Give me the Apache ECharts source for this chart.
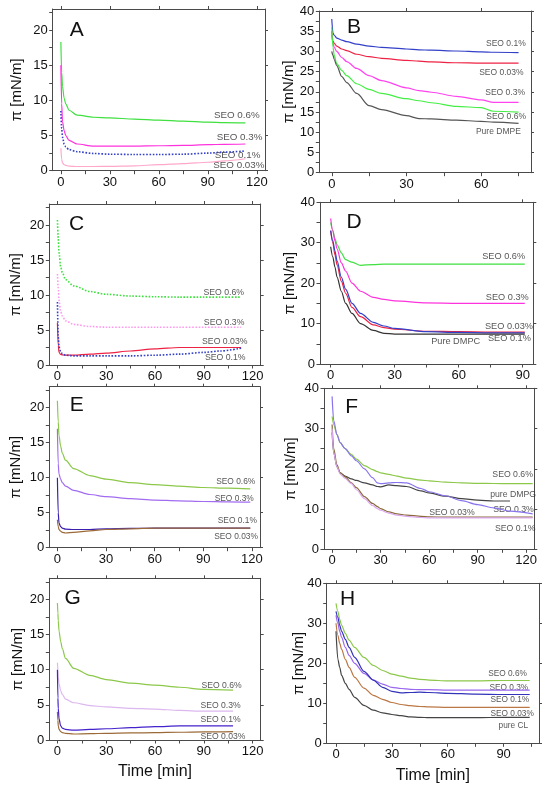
<!DOCTYPE html>
<html><head><meta charset="utf-8">
<script src="https://cdn.jsdelivr.net/npm/echarts@6/dist/echarts.min.js"></script>
<style>html,body{margin:0;padding:0;background:#fff}#c{width:550px;height:789px}</style>
</head><body><div id="c"></div>
<script>
// ---------- DATA (time in min, surface pressure in mN/m) ----------
const tA = [0, 0.5, 1, 2, 3, 5, 10, 20, 30, 45, 60, 75, 90, 100, 113];
const A_seo06  = [18.3, 14, 12, 10.3, 9.5, 8.6, 7.9, 7.6, 7.5, 7.35, 7.2, 7.05, 6.9, 6.85, 6.8];
const A_seo03  = [15, 9.5, 7, 5.7, 5, 4.3, 3.8, 3.5, 3.5, 3.5, 3.55, 3.6, 3.7, 3.75, 3.8];
const A_seo01  = [8.5, 6, 4.8, 3.8, 3.4, 3.0, 2.7, 2.45, 2.35, 2.3, 2.3, 2.35, 2.5, 2.65, 2.8];
const A_seo003 = [3.2, 1.6, 1.1, 0.85, 0.75, 0.65, 0.6, 0.6, 0.62, 0.7, 0.85, 1.0, 1.2, 1.4, 1.7];

const tB = [0, 0.5, 1, 2, 4, 6, 10, 15, 20, 30, 35, 40, 50, 60, 65, 75];
const B_seo01  = [38, 34.5, 34, 33.3, 32.8, 32.4, 31.8, 31.3, 31, 30.6, 30.4, 30.3, 30.1, 29.9, 29.8, 29.7];
const B_seo003 = [35, 32.5, 32, 31.3, 30.6, 30.2, 29.3, 28.7, 28.3, 27.8, 27.6, 27.4, 27.2, 27.1, 27.1, 27.1];
const B_seo03  = [34, 32, 31, 30, 28.5, 27.5, 25.8, 24, 22.8, 21, 20.3, 19.9, 18.9, 18, 17.4, 17.4];
const B_seo06  = [36, 31, 29, 27, 25.3, 24, 22, 20.6, 19.6, 18.3, 17.8, 17.3, 16.4, 16.1, 15.2, 15];
const B_dmpe   = [30, 29, 28, 26.5, 23.8, 22.3, 19.6, 16.6, 15.6, 14.1, 13.4, 13.3, 13, 12.7, 12.5, 12.2];

const tC = [0, 0.5, 1, 2, 3, 5, 10, 20, 30, 45, 60, 75, 90, 100, 113];
const C_seo06  = [20.7, 18, 16, 14, 13.2, 12.2, 11.3, 10.5, 10.1, 9.85, 9.75, 9.7, 9.7, 9.7, 9.7];
const C_seo03  = [13, 11, 9.2, 7.6, 7, 6.3, 5.8, 5.5, 5.4, 5.4, 5.4, 5.4, 5.4, 5.4, 5.4];
const C_seo003 = [6, 2.8, 1.8, 1.5, 1.45, 1.4, 1.4, 1.55, 1.7, 2.0, 2.3, 2.5, 2.5, 2.5, 2.5];
const C_seo01  = [9, 4, 2.6, 1.9, 1.6, 1.4, 1.3, 1.3, 1.3, 1.3, 1.4, 1.55, 1.8, 2.0, 2.4];

const tD = [0, 1, 2, 3, 5, 7, 10, 14, 20, 25, 30, 45, 60, 75, 91];
const D_seo06  = [35, 33, 31, 29.5, 27.5, 25.8, 25.2, 24.4, 24.6, 24.7, 24.7, 24.7, 24.7, 24.7, 24.7];
const D_seo03  = [36, 33, 30.5, 28.5, 25, 23, 20, 18, 16.5, 16, 15.6, 15.1, 15, 15, 15];
const D_seo003 = [33, 30, 27, 24.5, 20.5, 17.5, 14, 11.7, 9.7, 9.0, 8.6, 8.1, 8.0, 7.9, 7.9];
const D_seo01  = [33, 30.5, 28, 25.5, 21.5, 18.5, 15, 12.5, 10.3, 9.4, 8.8, 8.0, 7.8, 7.7, 7.7];
const D_dmpc   = [29, 26.5, 24, 21.5, 18, 15, 12.5, 10, 8.3, 7.6, 7.4, 7.4, 7.4, 7.4, 7.4];

const tE = [0, 0.5, 1, 2, 3, 5, 10, 20, 30, 45, 60, 75, 90, 105, 119];
const E_seo06  = [21, 18, 16, 14.5, 13.5, 12.5, 11.3, 10.3, 9.8, 9.3, 9.0, 8.8, 8.6, 8.5, 8.4];
const E_seo03  = [17, 12, 10.5, 9.8, 9.3, 8.8, 8.2, 7.6, 7.3, 7.0, 6.8, 6.7, 6.6, 6.55, 6.5];
const E_seo01  = [10, 5, 3.5, 3.0, 2.8, 2.65, 2.6, 2.6, 2.7, 2.75, 2.8, 2.8, 2.8, 2.8, 2.8];
const E_seo003 = [4, 3, 2.6, 2.35, 2.2, 2.1, 2.2, 2.4, 2.6, 2.7, 2.8, 2.8, 2.8, 2.8, 2.8];

const tF = [0, 1, 3, 5, 8, 12, 15, 20, 25, 28, 30, 35, 40, 46, 55, 60, 70, 80, 90, 100, 110, 124];
const F_seo06  = [33, 31, 28.5, 26.5, 25, 23.5, 22.4, 20.8, 19.8, 19.3, 19, 18.6, 18.2, 17.7, 17.2, 17.0, 16.7, 16.5, 16.4, 16.35, 16.3, 16.3];
const F_dmpg   = [29, 24, 20.5, 19, 18.2, 17.5, 17.1, 16.5, 16, 15.6, 15.5, 16, 15.8, 15.6, 14.5, 14, 13.2, 12.6, 12.2, 12.0, 12.0, null];
const F_seo03  = [38, 32, 28.5, 26.5, 25, 23.2, 22, 20, 17.8, 16.5, 16.3, 16.5, 16.6, 16.5, 15.1, 14.3, 13.3, 12.1, 11.1, 10.3, 9.5, 8.8];
const F_seo003 = [31, 25, 21, 19, 18, 16.5, 15.3, 13.1, 11.4, 10.6, 10.1, 9.3, 8.8, 8.5, 8.2, 8.05, 8.0, 8.0, 8.0, 8.0, 8.0, 8.0];
const F_seo01  = [30, 24, 20.5, 18.7, 17.6, 16.3, 14.8, 12.6, 10.9, 10.1, 9.7, 9.0, 8.5, 8.2, 7.9, 7.8, 7.8, 7.8, 7.8, 7.8, 7.8, 7.8];

const tG = [0, 0.3, 0.5, 1, 2, 3, 5, 10, 20, 30, 45, 60, 75, 90, 108];
const G_seo06  = [19.5, 18, 17, 15.5, 14, 13, 11.6, 10.2, 9.2, 8.6, 8.1, 7.8, 7.5, 7.2, 7.1];
const G_seo03  = [11, 10, 9, 8, 7, 6.5, 5.8, 5.3, 4.9, 4.7, 4.5, 4.4, 4.2, 4.1, 4.1];
const G_seo01  = [10, 6, 4.5, 3, 2.0, 1.7, 1.5, 1.4, 1.5, 1.6, 1.75, 1.9, 2.0, 2.0, 2.0];
const G_seo003 = [4, 2.8, 2, 1.5, 1.2, 1.05, 0.95, 0.85, 0.9, 0.95, 1.0, 1.05, 1.1, 1.15, 1.2];

const tH = [0, 1, 2, 3, 5, 7, 10, 15, 20, 25, 30, 35, 40, 45, 50, 60, 75, 90, 104];
const H_seo06  = [35, 33, 31, 29.5, 27.5, 25.8, 24, 21.5, 19.5, 18.2, 17.3, 16.8, 16.3, 16.0, 15.8, 15.6, 15.6, 15.7, 15.7];
const H_seo03  = [32, 30, 28, 26.5, 24, 22, 20, 17.5, 15.8, 14.8, 14.0, 13.7, 13.5, 13.4, 13.4, 13.3, 13.3, 13.3, 13.3];
const H_seo01  = [33, 31.5, 29.5, 28, 26, 24, 21.5, 18, 15.8, 14, 13, 12.6, 12.7, 12.8, 12.7, 12.5, 12.3, 12.2, 12.2];
const H_seo003 = [30, 27, 25, 23.5, 21, 19, 16.5, 13.8, 12, 11, 10.2, 9.7, 9.4, 9.2, 9.1, 9.0, 9.0, 9.0, 9.0];
const H_cl     = [28, 21, 19, 17, 15, 13.5, 11.5, 9.5, 8.3, 7.6, 7.2, 6.9, 6.6, 6.5, 6.4, 6.4, 6.4, 6.5, 6.5];

// tick labels
const xTicks120 = [0, 30, 60, 90, 120];
const xTicks60 = [0, 30, 60];
const xTicks90 = [0, 30, 60, 90];
const yTicks20 = [0, 5, 10, 15, 20];
const yTicks40by5 = [0, 5, 10, 15, 20, 25, 30, 35, 40];
const yTicks40 = [0, 10, 20, 30, 40];

// ---------- LAYOUT / STYLE ----------
const GREEN = '#3fe03f', MAG = '#ff33dd', BLUE = '#3340c8', PINK = '#ffa8cc', RED = '#ee2244', GRAY = '#444';
const OLIVE = '#8cc84a', PURP = '#a26cf0', INDIGO = '#3a1fb0', BROWN = '#9c6a38';
const panels = [
  { letter: 'A', lp: [76.7, 30], box: [52.7, 9.0, 212.3, 161.7], ng: 28, x: [-5, 125, xTicks120], y: [0, 23, yTicks20], t: tA, fs: 9.8,
    s: [[A_seo06, GREEN], [A_seo03, MAG], [A_seo01, BLUE, 'dotted'], [A_seo003, PINK]],
    lab: [['SEO 0.6%', 107.7, 7.9], ['SEO 0.3%', 109.4, 4.8], ['SEO 0.1%', 108.2, 2.2], ['SEO 0.03%', 109, 0.7]] },
  { letter: 'B', lp: [354, 27], box: [319.3, 11, 211.7, 161.7], ng: 23, x: [-5, 80, xTicks60], y: [0, 40, yTicks40by5], t: tB, fs: 8.5,
    s: [[B_seo01, BLUE], [B_seo003, RED], [B_seo03, '#ff44ee'], [B_seo06, '#44ee44'], [B_dmpe, '#555']],
    lab: [['SEO 0.1%', 69.9, 31.9], ['SEO 0.03%', 68.1, 24.8], ['SEO 0.3%', 69.6, 19.9], ['SEO 0.6%', 70, 13.9], ['Pure DMPE', 66.9, 10.1]] },
  { letter: 'C', lp: [76.7, 224], box: [49.3, 204, 211.4, 161], ng: 26, x: [-5, 125, xTicks120], y: [0, 23, yTicks20], t: tC, fs: 8.7,
    s: [[C_seo06, GREEN, 'dotted'], [C_seo03, '#ff99ee', 'dotted'], [C_seo003, RED], [C_seo01, BLUE, 'dotted']],
    lab: [['SEO 0.6%', 102.3, 10.4], ['SEO 0.3%', 102.5, 6.1], ['SEO 0.03%', 102.9, 3.3], ['SEO 0.1%', 103.2, 1.0]] },
  { letter: 'D', lp: [354, 222], box: [320, 202.3, 213.3, 161.7], ng: 22.5, x: [-5, 95, xTicks90], y: [0, 40, yTicks40], t: tD, fs: 9.2,
    s: [[D_seo06, GREEN], [D_seo03, MAG], [D_seo003, RED], [D_seo01, BLUE], [D_dmpc, '#333']],
    lab: [['SEO 0.6%', 81.1, 26.6], ['SEO 0.3%', 82.8, 16.5], ['SEO 0.03%', 83.6, 9.3], ['SEO 0.1%', 83.8, 6.4], ['Pure DMPC', 58.6, 5.5]] },
  { letter: 'E', lp: [76.7, 405], box: [49.3, 386.7, 210.7, 161], ng: 26, x: [-5, 125, xTicks120], y: [0, 23, yTicks20], t: tE, fs: 8.4,
    s: [[E_seo06, OLIVE], [E_seo03, PURP], [E_seo01, INDIGO], [E_seo003, BROWN]],
    lab: [['SEO 0.6%', 110, 9.5], ['SEO 0.3%', 109.1, 7.06], ['SEO 0.1%', 111, 3.8], ['SEO 0.03%', 110.2, 1.57]] },
  { letter: 'F', lp: [351.7, 407], box: [324, 388.3, 210.3, 161], ng: 25.5, x: [-5, 125, xTicks120], y: [0, 40, yTicks40], t: tF, fs: 8.7,
    s: [[F_seo06, OLIVE], [F_dmpg, GRAY], [F_seo03, '#8a74ee'], [F_seo003, '#8a6a3a'], [F_seo01, '#dcaaee']],
    lab: [['SEO 0.6%', 111.6, 18.6], ['pure DMPG', 111.9, 13.5], ['SEO 0.3%', 112.1, 9.8], ['SEO 0.03%', 74.1, 9.1], ['SEO 0.1%', 113.2, 5.2]] },
  { letter: 'G', lp: [72.7, 598], box: [49.3, 578.3, 211.4, 161.7], ng: 24, x: [-5, 125, xTicks120], y: [0, 23, yTicks20], t: tG, fs: 8.6, xname: true,
    s: [[G_seo06, OLIVE], [G_seo03, '#dcb8ee'], [G_seo01, '#4422cc'], [G_seo003, BROWN]],
    lab: [['SEO 0.6%', 100.9, 7.7], ['SEO 0.3%', 100.3, 4.88], ['SEO 0.1%', 100.3, 2.94], ['SEO 0.03%', 101.8, 0.47]] },
  { letter: 'H', lp: [347.7, 599], box: [326.7, 583.3, 212.3, 160], ng: 20.5, x: [-5, 109, xTicks90], y: [0, 40, yTicks40], t: tH, fs: 8.3, xname: true,
    s: [[H_seo06, OLIVE], [H_seo03, '#9966ee'], [H_seo01, '#3333bb'], [H_seo003, '#bb7744'], [H_cl, GRAY]],
    lab: [['SEO 0.6%', 92.1, 17.3], ['SEO 0.3%', 92.8, 14], ['SEO 0.1%', 93.3, 11], ['SEO 0.03%', 94.6, 7.5], ['pure CL', 95.2, 4.3]] }
];

const FONT = 'Liberation Sans, Arial, sans-serif';
const AXC = '#4a4a4a';
// major ticks plus the half-way minor ticks
const withMinor = (ticks, max) => {
  const step = ticks[1] - ticks[0];
  return ticks.concat(ticks.map(v => v + step / 2).filter(v => v <= max)).sort((a, b) => a - b);
};

const grid = [], xAxis = [], yAxis = [], series = [], graphic = [];
panels.forEach((p, gi) => {
  grid.push({ left: p.box[0], top: p.box[1], width: p.box[2], height: p.box[3] });
  const [xmin, xmax, xt] = p.x, [ymin, ymax, yt] = p.y;
  const xi = xAxis.length, yi = yAxis.length;
  const line = { show: true, onZero: false, lineStyle: { color: AXC, width: 1 } };
  xAxis.push({
    type: 'value', gridIndex: gi, min: xmin, max: xmax, position: 'bottom',
    axisLine: line, splitLine: { show: false },
    axisTick: { show: true, length: 3.5, customValues: withMinor(xt, xmax), lineStyle: { color: AXC } },
    axisLabel: { show: true, customValues: xt, fontSize: 13, color: '#111', fontFamily: FONT, margin: 5 },
    name: p.xname ? 'Time [min]' : '', nameLocation: 'middle', nameGap: 24, nameMoveOverlap: false,
    nameTextStyle: { fontSize: 16, color: '#111', fontFamily: FONT }
  });
  xAxis.push({
    type: 'value', gridIndex: gi, min: xmin, max: xmax, position: 'top',
    axisLine: line, splitLine: { show: false }, axisLabel: { show: false },
    axisTick: { show: true, length: 3, customValues: xt, lineStyle: { color: AXC } }
  });
  yAxis.push({
    type: 'value', gridIndex: gi, min: ymin, max: ymax, position: 'left',
    axisLine: line, splitLine: { show: false },
    axisTick: { show: true, length: 3.5, customValues: withMinor(yt, ymax), lineStyle: { color: AXC } },
    axisLabel: { show: true, customValues: yt, fontSize: 13, color: '#111', fontFamily: FONT, margin: 5 },
    name: 'π [mN/m]', nameLocation: 'middle', nameGap: p.ng, nameMoveOverlap: false,
    nameTextStyle: { fontSize: 15, color: '#111', fontFamily: FONT }
  });
  yAxis.push({
    type: 'value', gridIndex: gi, min: ymin, max: ymax, position: 'right',
    axisLine: line, splitLine: { show: false }, axisLabel: { show: false },
    axisTick: { show: true, length: 3, customValues: yt, lineStyle: { color: AXC } }
  });
  p.s.forEach(([vals, color, dash]) => {
    series.push({
      type: 'line', xAxisIndex: xi, yAxisIndex: yi, showSymbol: false, symbol: 'none',
      smooth: 0.3, smoothMonotone: 'x', connectNulls: false, animation: false,
      lineStyle: { color: color, width: dash ? 1.6 : 1.2, type: dash || 'solid' },
      data: p.t.map((t, k) => [t, vals[k]]).filter(d => d[1] !== null)
    });
  });
  series.push({
    type: 'scatter', xAxisIndex: xi, yAxisIndex: yi, symbolSize: 0, silent: true, animation: false,
    label: { show: true, position: 'inside', formatter: d => d.name, fontSize: p.fs, color: '#2a2a2a', fontFamily: FONT },
    data: p.lab.map(l => ({ name: l[0], value: [l[1], l[2]] }))
  });
  graphic.push({
    type: 'text', x: p.lp[0], y: p.lp[1],
    style: { text: p.letter, font: '21px ' + FONT, fill: '#111', textAlign: 'center', textVerticalAlign: 'middle' }
  });
});

const chart = echarts.init(document.getElementById('c'), null, { renderer: 'canvas' });
chart.setOption({ backgroundColor: '#fff', animation: false, grid, xAxis, yAxis, series, graphic });
</script>
</body></html>
